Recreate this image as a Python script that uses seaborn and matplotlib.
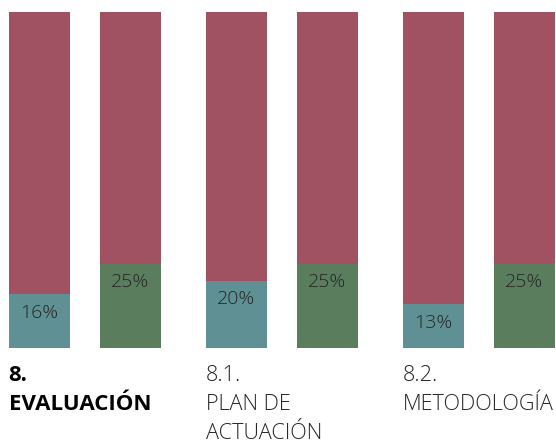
import matplotlib
matplotlib.use("Agg")
import matplotlib.pyplot as plt
import matplotlib.transforms as mtransforms
import seaborn as sns
import pandas as pd

groups = ["8. EVALUACIÓN", "8.1. PLAN DE ACTUACIÓN", "8.2. METODOLOGÍA"]
group_lines = [["8.", "EVALUACIÓN"], ["8.1.", "PLAN DE", "ACTUACIÓN"], ["8.2.", "METODOLOGÍA"]]
group_bold = [True, False, False]
series = ["Serie 1", "Serie 2"]
values_1 = [16, 20, 13]
values_2 = [25, 25, 25]
totals = [100, 100, 100]
labels_1 = ["16%", "20%", "13%"]
labels_2 = ["25%", "25%", "25%"]

c_top = "#a05263"
c_1 = "#5e9094"
c_2 = "#5a7d5e"

sns.set_theme(style="white")
plt.rcParams["font.family"] = ["Open Sans", "DejaVu Sans"]

rows = []
for g, a, b, t in zip(groups, values_1, values_2, totals):
    rows.append({"group": g, "serie": series[0], "value": a, "total": t})
    rows.append({"group": g, "serie": series[1], "value": b, "total": t})
df = pd.DataFrame(rows)

fig = plt.figure(figsize=(5.56, 4.44), dpi=100)
ax = fig.add_axes([0, 96 / 444, 1, 336 / 444])

sns.barplot(data=df, x="group", y="total", hue="serie", order=groups, hue_order=series,
            palette=[c_top, c_top], dodge=True, width=0.924, gap=0.33, ax=ax,
            legend=False, errorbar=None, linewidth=0, saturation=1)
sns.barplot(data=df, x="group", y="value", hue="serie", order=groups, hue_order=series,
            palette=[c_1, c_2], dodge=True, width=0.924, gap=0.33, ax=ax,
            legend=False, errorbar=None, linewidth=0, saturation=1)

ax.set_xlim(-0.429, 2.393)
ax.set_ylim(0, 100)
ax.axis("off")

# value labels inside the bottom segments
conts = ax.containers[-2:]
for cont, labs in zip(conts, [labels_1, labels_2]):
    for patch, lab in zip(cont.patches, labs):
        xc = patch.get_x() + patch.get_width() / 2
        ax.annotate(lab, (xc, patch.get_height()), xytext=(0, -13.2), textcoords="offset points",
                    ha="center", va="center", fontsize=14, fontweight="light", color="#262626")

# group labels
trans = mtransforms.blended_transform_factory(ax.transData, fig.transFigure)
first = ax.containers[-2]
baselines = [381, 410, 439]
for i, (lines, bold) in enumerate(zip(group_lines, group_bold)):
    x0 = first.patches[i].get_x()
    for j, line in enumerate(lines):
        ax.text(x0, 1 - baselines[j] / 444, line, transform=trans, ha="left", va="baseline",
                fontsize=16 if bold else 15.6, fontweight="bold" if bold else "light",
                color="#000000" if bold else "#262626", clip_on=False)

fig.savefig("out.png", dpi=100)
